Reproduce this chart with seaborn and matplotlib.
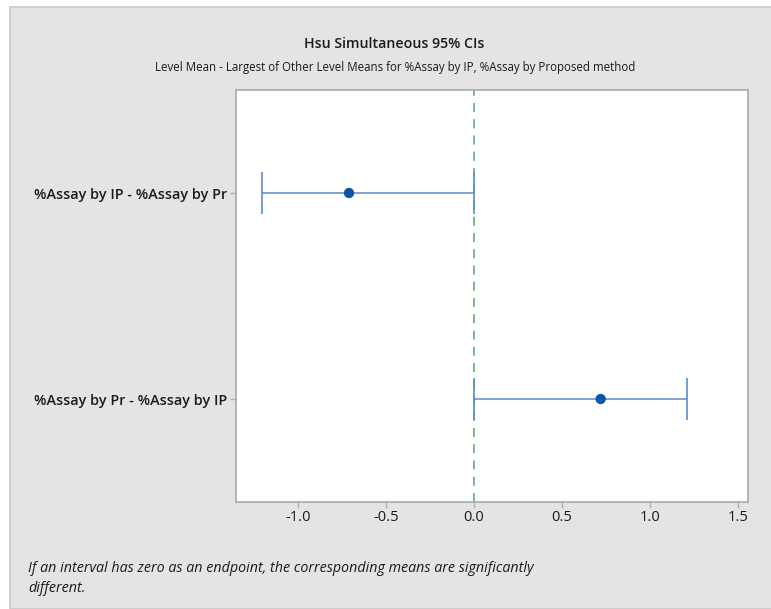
import numpy as np
import pandas as pd
import seaborn as sns
import matplotlib.pyplot as plt
from matplotlib.patches import Rectangle

# Hsu intervals: level mean - largest of other level means
labels = ['%Assay by IP - %Assay by Pr', '%Assay by Pr - %Assay by IP']
centers = [-0.71, 0.72]
lowers = [-1.205, 0.0]
uppers = [0.0, 1.21]
xticks = [-1.0, -0.5, 0.0, 0.5, 1.0, 1.5]

df = pd.DataFrame({'label': labels, 'center': centers, 'lower': lowers, 'upper': uppers})
df['pos'] = np.arange(len(df))

sns.set_theme(style='white')
plt.rcParams['font.family'] = ['Open Sans', 'DejaVu Sans']

fig = plt.figure(figsize=(7.71, 6.09), dpi=100)
fig.patch.set_facecolor('white')
# grey panel behind the graph
fig.patches.append(Rectangle((10 / 771, 0), 1, 1 - 7 / 609, transform=fig.transFigure,
                             facecolor='#e4e4e4', edgecolor='#c8c8c8', linewidth=1.2, zorder=-5))

ax = fig.add_axes([236 / 771, 1 - 502 / 609, 512 / 771, 412 / 609])
ax.set_zorder(2)
ax.set_facecolor('white')

ax.axvline(0, color='#6db67c', linestyle=(0, (5, 4)), linewidth=1.3, zorder=1)
ax.errorbar(df['center'], df['pos'],
            xerr=[df['center'] - df['lower'], df['upper'] - df['center']],
            fmt='none', ecolor='#5b8cc8', elinewidth=1.1, capsize=15, capthick=1.2, zorder=2)
sns.scatterplot(data=df, x='center', y='pos', color='#0a55a6', s=55, edgecolor='none',
                ax=ax, zorder=3, legend=False)

ax.set_xlim(-1.352, 1.557)
ax.set_ylim(1.5, -0.5)
ax.set_xticks(xticks)
ax.set_xticklabels([f'{t:.1f}' for t in xticks], fontsize=10.5)
ax.set_yticks(df['pos'])
ax.set_yticklabels(df['label'], fontsize=10.4, fontweight='semibold')
ax.set_xlabel('')
ax.set_ylabel('')
ax.tick_params(axis='both', bottom=True, left=True, length=4, width=1,
               colors='#b0b0b0', labelcolor='#1a1a1a', pad=2)
for s in ax.spines.values():
    s.set_color('#a8a8a8')
    s.set_linewidth(1.2)

fig.text(394 / 771, 1 - 44 / 609, 'Hsu Simultaneous 95% CIs', ha='center', va='center',
         fontsize=10.2, fontweight='semibold', color='#1a1a1a')
fig.text(395 / 771, 1 - 67 / 609,
         'Level Mean - Largest of Other Level Means for %Assay by IP, %Assay by Proposed method',
         ha='center', va='center', fontsize=8.3, color='#1a1a1a')
fig.text(28 / 771, 1 - 561 / 609,
         'If an interval has zero as an endpoint, the corresponding means are significantly\ndifferent.',
         ha='left', va='top', fontsize=10.3, style='italic', color='#1a1a1a',
         linespacing=1.45)

fig.savefig('out.png', dpi=100, facecolor=fig.get_facecolor())
